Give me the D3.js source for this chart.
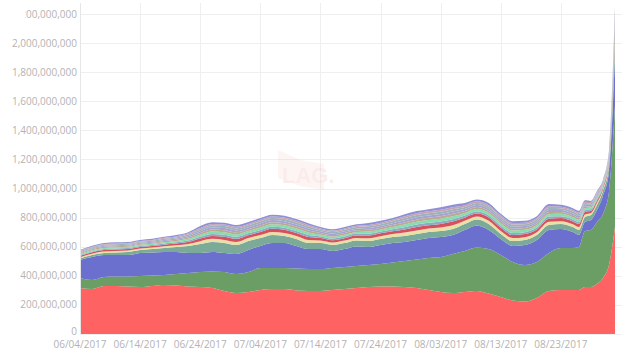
<!DOCTYPE html>
<html>
<head>
<meta charset="utf-8">
<script src="https://cdn.jsdelivr.net/npm/d3@7"></script>
<style>
  body { margin: 0; background: #fff; }
  .axis text { font-family: "Open Sans", sans-serif; font-size: 10px; fill: #b3b3b3; }
  .grid line { stroke: #efefef; }
</style>
</head>
<body>
<div id="chart"></div>
<script>
// dates (every 2 days, then daily at the end)
var dates = ["2017-06-04","2017-06-06","2017-06-08","2017-06-10","2017-06-12","2017-06-14","2017-06-16","2017-06-18","2017-06-20","2017-06-22",
  "2017-06-24","2017-06-26","2017-06-28","2017-06-30","2017-07-02","2017-07-04","2017-07-06","2017-07-08","2017-07-10","2017-07-12",
  "2017-07-14","2017-07-16","2017-07-18","2017-07-20","2017-07-22","2017-07-24","2017-07-26","2017-07-28","2017-07-30","2017-08-01",
  "2017-08-03","2017-08-05","2017-08-07","2017-08-09","2017-08-11","2017-08-13","2017-08-15","2017-08-17","2017-08-19","2017-08-21",
  "2017-08-23","2017-08-24","2017-08-25","2017-08-26","2017-08-27","2017-08-28","2017-08-29","2017-08-30","2017-08-31","2017-09-01"];

// values in millions, bottom layer first
var red = [316,309,330,330,327,323,330,337,333,327, 323,316,296,282,289,302,309,309,299,296, 296,302,309,316,323,327,327,323,316,302, 289,282,289,296,278,254,230,223,248,296, 302,302,302,302,323,323,344,385,474,736];
var green = [69,62,62,65,68,76,72,69,79,92, 103,114,130,130,137,152,145,145,151,151, 151,152,152,151,151,154,165,179,196,220, 240,268,282,299,306,289,265,251,247,261, 289,289,289,296,385,392,426,440,502,838];
var blue = [124,158,151,148,148,158,158,158,152,138, 131,134,131,138,152,151,172,172,155,137, 137,117,123,135,124,131,134,131,134,138, 138,131,144,151,131,110,110,138,151,158, 131,124,110,83,62,69,83,124,138,344];
var sage = [10,14,14,17,21,21,24,28,34,48, 62,69,69,62,62,55,55,48,48,41, 41,41,41,41,41,41,41,41,41,41, 41,41,41,41,41,34,34,34,34,34, 34,34,34,34,34,34,34,34,41,83];
var cream = [9,9,10,10,10,10,10,11,12,14, 19,21,21,21,20,21,21,21,21,21, 17,17,17,17,19,19,20,23,24,24, 25,25,22,21,22,21,21,20,20,22, 20,20,20,20,18,14,14,11,17,37];
var crimson = [9,10,10,11,10,10,11,11,12,13, 18,20,22,21,19,20,22,21,20,21, 18,16,17,18,19,20,20,22,25,23, 24,26,22,20,23,22,20,21,19,22, 21,20,19,21,17,15,14,12,16,36];
var steel = [6,6,7,7,7,7,7,8,8,10, 12,14,14,14,13,14,14,14,14,14, 11,11,11,11,12,12,13,15,16,16, 16,16,14,14,14,14,14,13,13,14, 13,13,13,13,12,10,10,8,11,25];
var mint = [7,8,8,8,8,8,8,9,10,12, 15,17,17,17,16,17,17,17,17,17, 13,13,13,13,15,15,16,18,19,19, 20,20,17,17,17,17,17,16,16,17, 16,16,16,16,14,12,12,9,13,30];
var tan = [6,6,7,7,7,7,7,8,8,10, 12,13,14,14,13,14,14,15,14,14, 11,11,12,11,12,12,13,15,15,16, 16,17,14,14,14,14,13,13,13,14, 13,13,13,13,12,10,10,8,11,25];
var lavender = [6,6,7,7,7,7,7,8,8,10, 12,14,14,13,13,14,14,14,14,13, 11,11,11,11,12,12,13,15,16,16, 16,16,14,14,14,14,14,13,13,14, 13,13,13,13,12,10,10,8,11,25];
var slate = [6,6,7,7,7,7,7,8,8,10, 12,14,14,14,13,14,14,14,14,14, 11,11,11,11,12,12,13,15,16,16, 16,16,14,14,14,14,14,13,13,14, 13,13,13,13,12,10,10,8,11,25];
var pink = [4,5,6,6,6,6,6,6,7,8, 10,11,11,11,10,11,11,11,11,11, 9,9,9,9,10,10,10,12,13,13, 13,13,12,11,12,11,11,10,10,12, 10,10,10,10,9,8,8,6,9,20];
var purple = [5,7,7,7,7,7,7,7,10,8, 13,12,12,12,13,12,12,12,12,12, 10,10,10,10,13,13,13,15,14,14, 18,18,15,12,15,12,12,13,13,15, 13,13,13,13,10,8,8,7,10,24];

var yTicks = [0,200,400,600,800,1000,1200,1400,1600,1800,2000,2200];
var xTicks = ["2017-06-04","2017-06-14","2017-06-24","2017-07-04","2017-07-14","2017-07-24","2017-08-03","2017-08-13","2017-08-23"];

var keys = ["red","green","blue","sage","cream","crimson","steel","mint","tan","lavender","slate","pink","purple"];
var series = {red: red, green: green, blue: blue, sage: sage, cream: cream, crimson: crimson, steel: steel,
  mint: mint, tan: tan, lavender: lavender, slate: slate, pink: pink, purple: purple};
var colors = {red: "#fe6262", green: "#6b9e64", blue: "#6b6fce", sage: "#7caa98", cream: "#ebdea6",
  crimson: "#d5515d", steel: "#8eaac4", mint: "#87ddb0", tan: "#b9ab90", lavender: "#a8a2d2",
  slate: "#9db2bb", pink: "#c4a3b4", purple: "#8f90d6"};

var W = 630, H = 353;
var parse = d3.timeParse("%Y-%m-%d");

var rows = dates.map(function(d, i) {
  var r = {date: parse(d)};
  keys.forEach(function(k) { r[k] = series[k][i] * 1e6; });
  return r;
});

var svg = d3.select("#chart").append("svg")
  .attr("width", W)
  .attr("height", H);

var x = d3.scaleTime()
  .domain([parse("2017-06-04"), parse("2017-09-01")])
  .range([80, 615]);
var y = d3.scaleLinear()
  .domain([0, 2.2e9])
  .range([334, 14]);

// grid
svg.append("g")
  .attr("class", "grid")
  .selectAll("line.h")
  .data(yTicks).enter()
  .append("line")
  .attr("x1", 80).attr("x2", 622)
  .attr("y1", function(d) { return Math.round(y(d * 1e6)) + 0.5; })
  .attr("y2", function(d) { return Math.round(y(d * 1e6)) + 0.5; });
svg.append("g")
  .attr("class", "grid")
  .selectAll("line.v")
  .data(xTicks).enter()
  .append("line")
  .attr("x1", function(d) { return Math.round(x(parse(d))) + 0.5; })
  .attr("x2", function(d) { return Math.round(x(parse(d))) + 0.5; })
  .attr("y1", 3).attr("y2", 334);

// watermark
var wm = svg.append("g").attr("opacity", 0.1);
wm.append("path")
  .attr("d", "M278,150 L300,160 L324,164 L324,190 L300,186 L278,178 Z")
  .attr("fill", "#f4a0a0");
wm.append("text")
  .attr("x", 282).attr("y", 183)
  .style("font-family", "Liberation Sans Narrow, Liberation Sans, sans-serif")
  .style("font-weight", "bold")
  .style("font-size", "22px")
  .attr("fill", "#e05050")
  .text("LAG.");

// stacked areas
var stacked = d3.stack().keys(keys)(rows);
var area = d3.area()
  .curve(d3.curveMonotoneX)
  .x(function(d) { return x(d.data.date); })
  .y0(function(d) { return y(d[0]); })
  .y1(function(d) { return y(d[1]); });

svg.append("g")
  .selectAll("path")
  .data(stacked).enter()
  .append("path")
  .attr("fill", function(d) { return colors[d.key]; })
  .attr("d", area);

// y axis
svg.append("line")
  .attr("x1", 80.5).attr("x2", 80.5)
  .attr("y1", 3).attr("y2", 334)
  .attr("stroke", "#e6e6e6");

svg.append("clipPath").attr("id", "labclip")
  .append("rect").attr("x", 25).attr("y", 0).attr("width", 80).attr("height", H);

var fmt = d3.format(",");
var yAxis = svg.append("g").attr("class", "axis");
yAxis.selectAll("text")
  .data(yTicks).enter()
  .append("text")
  .attr("x", 77)
  .attr("y", function(d) { return d === 0 ? y(0) - 3 : y(d * 1e6); })
  .attr("dy", "0.35em")
  .attr("text-anchor", "end")
  .attr("clip-path", function(d) { return d === 2200 ? "url(#labclip)" : null; })
  .text(function(d) { return fmt(d * 1e6); });

// x axis
var xAxis = svg.append("g").attr("class", "axis");
xAxis.selectAll("text")
  .data(xTicks).enter()
  .append("text")
  .attr("x", function(d) { return x(parse(d)); })
  .attr("y", 348)
  .attr("text-anchor", "middle")
  .text(function(d) { return d3.timeFormat("%m/%d/%Y")(parse(d)); });
</script>
</body>
</html>
